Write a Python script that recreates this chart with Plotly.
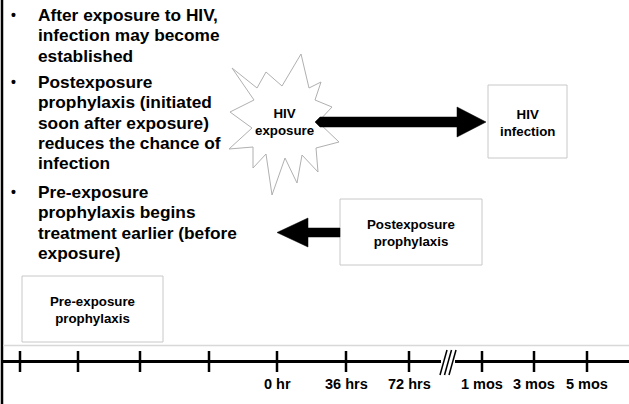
import plotly.graph_objects as go

# ---- data ----
bullet_points = [
    ["After exposure to HIV,", "infection may become", "established"],
    ["Postexposure", "prophylaxis (initiated", "soon after exposure)",
     "reduces the chance of", "infection"],
    ["Pre-exposure", "prophylaxis begins", "treatment earlier (before", "exposure)"],
]
node_labels = ["HIV<br>exposure", "HIV<br>infection",
               "Postexposure<br>prophylaxis", "Pre-exposure<br>prophylaxis"]
tick_positions = [20, 78, 140, 209, 277, 346, 409, 482, 534, 587]
tick_labels = ["", "", "", "", "0 hr", "36 hrs", "72 hrs", "1 mos", "3 mos", "5 mos"]

W, H = 629, 404
FONT = "Liberation Sans, Arial, Helvetica, sans-serif"
GRAY = "#c8c8c8"

fig = go.Figure()
shapes = []
annotations = []

# left border
shapes.append(dict(type="line", x0=2, x1=2, y0=0, y1=H, line=dict(color="black", width=2.5)))

# bullet text
bullet_y0 = [15, 82, 192]
step = 20.3
for b, lines in enumerate(bullet_points):
    annotations.append(dict(x=13, y=bullet_y0[b], text="<b>•</b>", showarrow=False,
                            xanchor="center", yanchor="middle",
                            font=dict(family=FONT, size=14, color="black")))
    for i, ln in enumerate(lines):
        annotations.append(dict(x=36, y=bullet_y0[b] + i * step, text="<b>%s</b>" % ln,
                                showarrow=False, xanchor="left", yanchor="middle",
                                font=dict(family=FONT, size=17.3, color="black")))

# starburst
outer = [(301, 54), (321, 82), (332, 107), (339, 142), (318, 172), (297, 183),
         (272, 195), (253, 168), (229, 149), (230, 112), (232, 68), (266, 72)]
inner = [(309, 88), (315, 100), (318, 122), (316, 148), (302, 155), (285, 158),
         (266, 154), (253, 147), (252, 128), (254, 100), (257, 88), (282, 86)]
pts = []
for o, i in zip(outer, inner):
    pts.append(o)
    pts.append(i)
path = "M " + " L ".join("%g,%g" % p for p in pts) + " Z"
shapes.append(dict(type="path", path=path, line=dict(color="#b0b0b0", width=1),
                   fillcolor="white"))

# boxes
boxes = [(488, 85, 567, 158), (340, 199, 482, 265), (22, 276, 163, 342)]
for (x0, y0, x1, y1) in boxes:
    shapes.append(dict(type="rect", x0=x0, x1=x1, y0=y0, y1=y1,
                       line=dict(color=GRAY, width=1), fillcolor="white"))

# right arrow (exposure -> infection)
ra = "M 315,122 L 320,117 L 457,117 L 457,107 L 486,122 L 457,137 L 457,127 L 320,127 Z"
shapes.append(dict(type="path", path=ra, line=dict(color="black", width=0.5), fillcolor="black"))
# left arrow (from postexposure box)
la = "M 340,228 L 308,228 L 308,218 L 277,232.5 L 308,247 L 308,237 L 340,237 Z"
shapes.append(dict(type="path", path=la, line=dict(color="black", width=0.5), fillcolor="black"))

# node labels
node_pos = [(284, 122), (527, 123), (411, 233), (92, 310)]
for lab, (x, y) in zip(node_labels, node_pos):
    annotations.append(dict(x=x, y=y, text="<b>%s</b>" % lab, showarrow=False,
                            xanchor="center", yanchor="middle",
                            font=dict(family=FONT, size=13.3, color="black")))

# gray separator
shapes.append(dict(type="line", x0=3, x1=W, y0=345.5, y1=345.5, line=dict(color="#d8d8d8", width=1.5)))

# timeline with break
TY = 361.5
shapes.append(dict(type="line", x0=3, x1=441, y0=TY, y1=TY, line=dict(color="black", width=3)))
shapes.append(dict(type="line", x0=455, x1=W, y0=TY, y1=TY, line=dict(color="black", width=3)))
for dx in (0, 4.5, 9):
    shapes.append(dict(type="line", x0=440 + dx, x1=447 + dx, y0=375, y1=350,
                       line=dict(color="black", width=1.5)))

# ticks via scatter
tx, ty = [], []
for x in tick_positions:
    tx += [x, x, None]
    ty += [351, 372, None]
fig.add_trace(go.Scatter(x=tx, y=ty, mode="lines", line=dict(color="black", width=2.5),
                         hoverinfo="skip", showlegend=False))
for x, lab in zip(tick_positions, tick_labels):
    if lab:
        annotations.append(dict(x=x, y=384, text="<b>%s</b>" % lab, showarrow=False,
                                xanchor="center", yanchor="middle",
                                font=dict(family=FONT, size=14.5, color="black")))

fig.update_layout(
    width=W, height=H, autosize=False,
    margin=dict(l=0, r=0, t=0, b=0, pad=0),
    paper_bgcolor="white", plot_bgcolor="white",
    xaxis=dict(range=[0, W], visible=False, fixedrange=True),
    yaxis=dict(range=[H, 0], visible=False, fixedrange=True),
    shapes=shapes, annotations=annotations, showlegend=False,
)
fig.write_html("out.html", config={"displayModeBar": False},
               post_script="document.body.style.margin='0';document.body.style.overflow='hidden';")
